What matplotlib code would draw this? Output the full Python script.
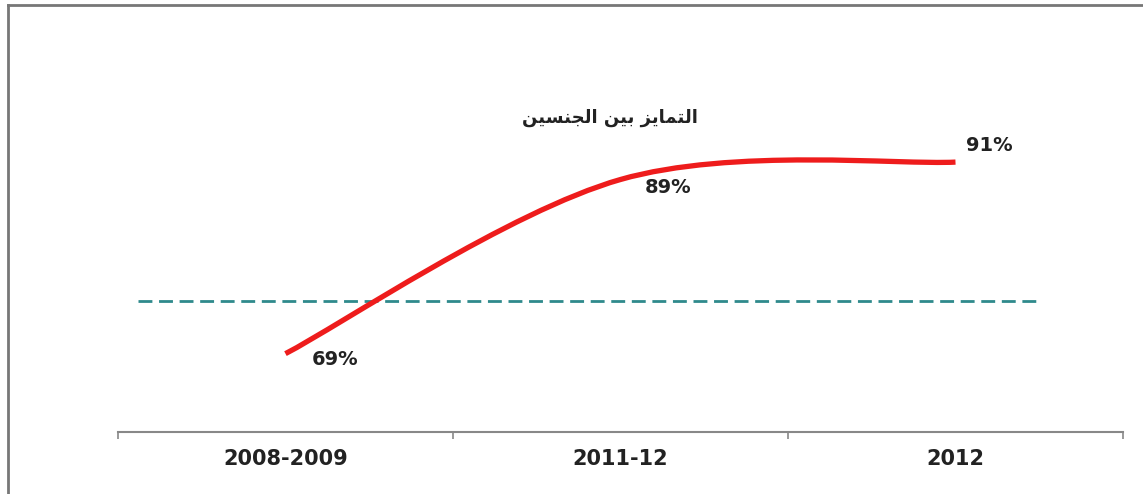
import matplotlib.pyplot as plt
import numpy as np
from matplotlib.path import Path
from matplotlib.patches import PathPatch
from matplotlib.lines import Line2D

plt.rcParams['font.family'] = ['DejaVu Sans']

# Gender gap index by period
periods = ['2008-2009', '2011-12', '2012']
values = [69, 89, 91]
value_labels = ['69%', '89%', '91%']
target = 75

# Title, pre-shaped into Arabic presentation forms (visual order)
title_shaped = ('\uFE8D\uFEDF\uFE98\uFEE4\uFE8E\uFEF3\uFEB0' + ' '
                + '\uFE91\uFEF4\uFEE6' + ' '
                + '\uFE8D\uFEDF\uFEA0\uFEE8\uFEB4\uFEF4\uFEE6')[::-1]

fig = plt.figure(figsize=(11.43, 4.94), dpi=100)
ax = fig.add_axes([0.1032, 0.1255, 0.8793, 0.705])

x = np.arange(len(values), dtype=float)
y = np.array(values, dtype=float)

# Smoothed line through the points (Catmull-Rom style cubic Beziers)
verts = [(x[0], y[0])]
codes = [Path.MOVETO]
n = len(x)
for i in range(n - 1):
    p0 = np.array([x[max(i - 1, 0)], y[max(i - 1, 0)]])
    p1 = np.array([x[i], y[i]])
    p2 = np.array([x[i + 1], y[i + 1]])
    p3 = np.array([x[min(i + 2, n - 1)], y[min(i + 2, n - 1)]])
    c1 = p1 + (p2 - p0) / 6
    c2 = p2 - (p3 - p1) / 6
    verts += [tuple(c1), tuple(c2), tuple(p2)]
    codes += [Path.CURVE4] * 3
ax.add_patch(PathPatch(Path(verts, codes), facecolor='none',
                       edgecolor='#ee1c1c', lw=3.8, capstyle='butt', zorder=3))

# Reference level
ax.hlines(target, -0.44, 2.24, colors='#2f8a8c', linestyles=(0, (5, 2.4)),
          lw=2.0, zorder=2)

# Value labels
offsets = [(36, -4), (34, -6), (24, 12)]
for xi, yi, lab, off in zip(x, y, value_labels, offsets):
    ax.annotate(lab, (xi, yi), xytext=off, textcoords='offset points',
                ha='center', va='center', fontsize=14, fontweight='bold',
                color='#222222')

ax.set_xlim(-0.5, 2.5)
ax.set_ylim(60, 100)
ax.set_xticks(x)
ax.set_xticklabels(periods, fontsize=15, fontweight='bold', color='#222222')
ax.set_xticks([-0.5, 0.5, 1.5, 2.5], minor=True)
ax.tick_params(axis='x', which='major', length=0, pad=12)
ax.tick_params(axis='x', which='minor', length=5, width=1.2, color='#888888',
               direction='out')
ax.set_yticks([])
for side in ['left', 'right', 'top']:
    ax.spines[side].set_visible(False)
ax.spines['bottom'].set_color('#888888')
ax.spines['bottom'].set_linewidth(1.5)

fig.text(0.534, 0.762, title_shaped, ha='center', va='center', fontsize=13,
         fontweight='bold', color='#222222')

# Outer frame lines (left and top)
fig.add_artist(Line2D([0.007, 0.007], [0.0, 0.99], transform=fig.transFigure,
                      color='#777777', lw=2))
fig.add_artist(Line2D([0.007, 1.0], [0.99, 0.99], transform=fig.transFigure,
                      color='#777777', lw=2))

fig.savefig('out.png', dpi=100)
